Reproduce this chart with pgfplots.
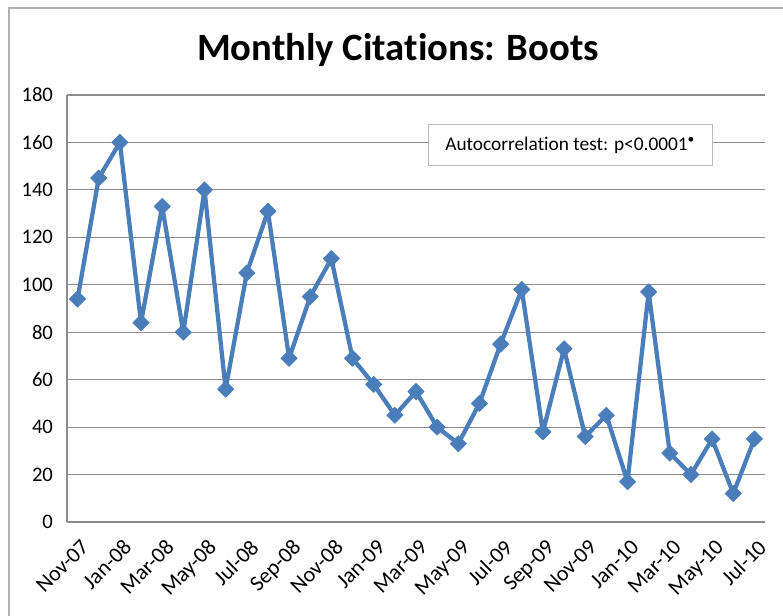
\documentclass[border=0pt]{standalone}
\usepackage{fontspec}
\setmainfont{Carlito}[Ligatures=NoCommon]
\usepackage{pgfplots}
\pgfplotsset{compat=1.18}
\definecolor{xlblue}{HTML}{4A7EBB}
\definecolor{gridgray}{HTML}{8C8C8C}

\begin{document}
\begin{tikzpicture}[x=0.75pt,y=0.75pt]
% frame of the chart area (px coordinates relative to the plot origin)
\useasboundingbox (-67,-94) rectangle (716,522);
\draw[gray!60, line width=1pt] (-58,-94) -- (-58,514) -- (716,514);
\begin{axis}[
  at={(0,0)}, anchor=south west,
  scale only axis,
  width=523.5pt, height=320.25pt,
  xmin=-0.5, xmax=32.5,
  ymin=0, ymax=180,
  ytick={0,20,...,180},
  xtick={0,2,...,32},
  xticklabels={Nov-07,Jan-08,Mar-08,May-08,Jul-08,Sep-08,Nov-08,Jan-09,Mar-09,May-09,Jul-09,Sep-09,Nov-09,Jan-10,Mar-10,May-10,Jul-10},
  xticklabel style={rotate=45, anchor=north east, font=\fontsize{16.5}{18}\selectfont,
    inner sep=0pt, xshift=-7.2pt, yshift=-9.7pt},
  yticklabel style={font=\fontsize{15.5}{17}\selectfont, xshift=-7pt},
  /pgf/number format/assume math mode=true,
  major tick length=0pt,
  ymajorgrids=true,
  grid style={gridgray, line width=0.9pt},
  axis line style={gridgray, line width=0.9pt},
  axis x line*=bottom, axis y line*=left,
  title={Monthly Citations: Boots},
  title style={font=\fontsize{29}{32}\selectfont\bfseries, yshift=12pt, xshift=-13.5pt},
  clip=false,
]
\addplot[xlblue, line width=3.2pt, line join=round, mark=square*, mark size=4.3pt,
  mark options={fill=xlblue, draw=xlblue, line width=0.5pt, rotate=45}] coordinates {
  (0,94) (1,145) (2,160) (3,84) (4,133) (5,80) (6,140) (7,56) (8,105)
  (9,131) (10,69) (11,95) (12,111) (13,69) (14,58) (15,45) (16,55)
  (17,40) (18,33) (19,50) (20,75) (21,98) (22,38) (23,73) (24,36)
  (25,45) (26,17) (27,97) (28,29) (29,20) (30,35) (31,12) (32,35)
};
\node[draw=gray!55, line width=1pt, fill=white, minimum width=213pt, minimum height=30.5pt,
  font=\fontsize{14.5}{16}\selectfont] at (rel axis cs:0.721,0.883)
  {Autocorrelation test: p<0.0001\textsuperscript{\textbullet}};
\end{axis}
\end{tikzpicture}
\end{document}
